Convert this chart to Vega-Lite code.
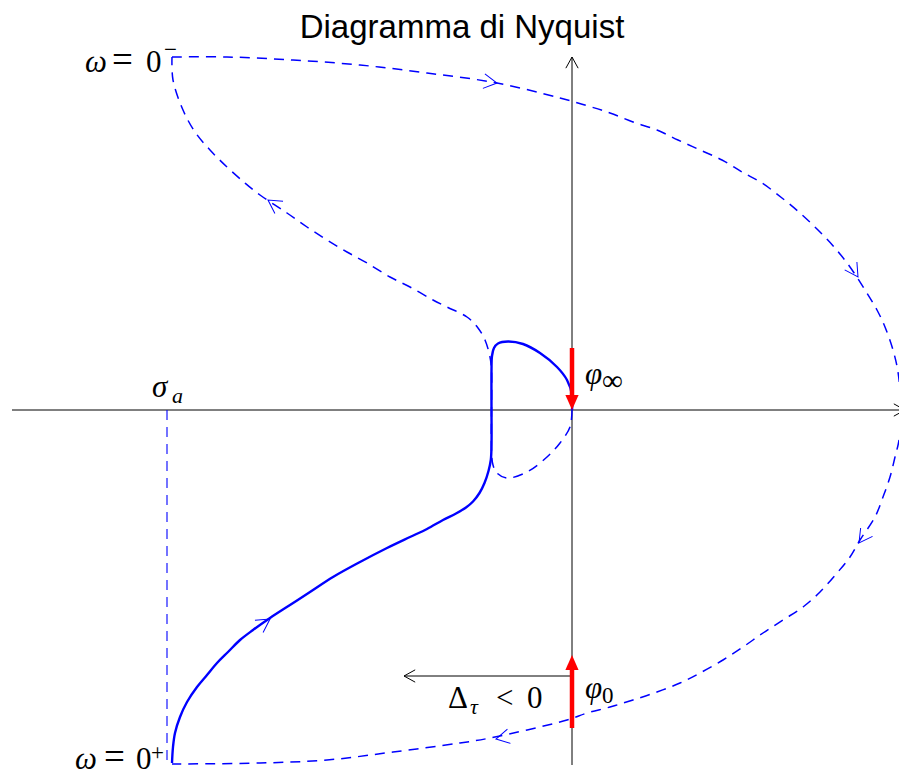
{
  "$schema": "https://vega.github.io/schema/vega-lite/v6.json",
  "width": 899,
  "height": 778,
  "padding": 0,
  "autosize": "none",
  "background": "white",
  "config": {"view": {"stroke": null}},
  "datasets": {
    "solid": [
      {"i":0,"x":-4.00,"y":-3.53},{"i":1,"x":-3.99,"y":-3.37},{"i":2,"x":-3.97,"y":-3.23},{"i":3,"x":-3.92,"y":-3.07},
      {"i":4,"x":-3.85,"y":-2.92},{"i":5,"x":-3.75,"y":-2.77},{"i":6,"x":-3.65,"y":-2.65},{"i":7,"x":-3.55,"y":-2.53},
      {"i":8,"x":-3.44,"y":-2.42},{"i":9,"x":-3.32,"y":-2.30},{"i":10,"x":-3.19,"y":-2.20},{"i":11,"x":-3.02,"y":-2.08},
      {"i":12,"x":-2.82,"y":-1.95},{"i":13,"x":-2.62,"y":-1.82},{"i":14,"x":-2.39,"y":-1.67},{"i":15,"x":-2.12,"y":-1.52},
      {"i":16,"x":-1.85,"y":-1.38},{"i":17,"x":-1.62,"y":-1.27},{"i":18,"x":-1.45,"y":-1.19},{"i":19,"x":-1.29,"y":-1.10},
      {"i":20,"x":-1.16,"y":-1.035},{"i":21,"x":-1.06,"y":-0.975},{"i":22,"x":-0.99,"y":-0.915},{"i":23,"x":-0.925,"y":-0.83},
      {"i":24,"x":-0.875,"y":-0.73},{"i":25,"x":-0.835,"y":-0.61},{"i":26,"x":-0.812,"y":-0.50},{"i":27,"x":-0.805,"y":-0.35},
      {"i":28,"x":-0.805,"y":0.0},{"i":29,"x":-0.805,"y":0.40},{"i":30,"x":-0.80,"y":0.54},{"i":31,"x":-0.78,"y":0.62},
      {"i":32,"x":-0.74,"y":0.665},{"i":33,"x":-0.64,"y":0.685},{"i":34,"x":-0.49,"y":0.66},{"i":35,"x":-0.32,"y":0.57},
      {"i":36,"x":-0.15,"y":0.43},{"i":37,"x":-0.05,"y":0.30},{"i":38,"x":0.0,"y":0.15},{"i":39,"x":0.0,"y":0.0}
    ],
    "dashed": [
      {"s":"A","i":0,"x":0.0,"y":0.0},{"s":"A","i":1,"x":-0.02,"y":-0.17},{"s":"A","i":2,"x":-0.12,"y":-0.33},
      {"s":"A","i":3,"x":-0.25,"y":-0.47},{"s":"A","i":4,"x":-0.45,"y":-0.62},{"s":"A","i":5,"x":-0.65,"y":-0.68},
      {"s":"A","i":6,"x":-0.75,"y":-0.63},{"s":"A","i":7,"x":-0.79,"y":-0.55},{"s":"A","i":8,"x":-0.805,"y":-0.40},
      {"s":"A","i":9,"x":-0.805,"y":0.0},{"s":"A","i":10,"x":-0.805,"y":0.40},{"s":"A","i":11,"x":-0.82,"y":0.53},
      {"s":"A","i":12,"x":-0.87,"y":0.70},{"s":"A","i":13,"x":-0.94,"y":0.82},{"s":"A","i":14,"x":-1.05,"y":0.93},
      {"s":"A","i":15,"x":-1.25,"y":1.03},{"s":"A","i":16,"x":-1.39,"y":1.10},{"s":"A","i":17,"x":-1.62,"y":1.23},
      {"s":"A","i":18,"x":-1.82,"y":1.33},{"s":"A","i":19,"x":-2.05,"y":1.47},{"s":"A","i":20,"x":-2.25,"y":1.58},
      {"s":"A","i":21,"x":-2.45,"y":1.70},{"s":"A","i":22,"x":-2.65,"y":1.83},{"s":"A","i":23,"x":-2.85,"y":1.97},
      {"s":"A","i":24,"x":-3.12,"y":2.15},{"s":"A","i":25,"x":-3.27,"y":2.27},{"s":"A","i":26,"x":-3.45,"y":2.43},
      {"s":"A","i":27,"x":-3.62,"y":2.60},{"s":"A","i":28,"x":-3.77,"y":2.78},{"s":"A","i":29,"x":-3.89,"y":3.00},
      {"s":"A","i":30,"x":-3.99,"y":3.30},{"s":"A","i":31,"x":-4.00,"y":3.53},
      {"s":"B","i":0,"x":-4.00,"y":3.53},{"s":"B","i":1,"x":-3.45,"y":3.53},{"s":"B","i":2,"x":-2.79,"y":3.50},
      {"s":"B","i":3,"x":-2.12,"y":3.45},{"s":"B","i":4,"x":-1.45,"y":3.37},{"s":"B","i":5,"x":-0.75,"y":3.27},
      {"s":"B","i":6,"x":-0.12,"y":3.12},{"s":"B","i":7,"x":0.16,"y":3.04},{"s":"B","i":8,"x":0.38,"y":2.97},
      {"s":"B","i":9,"x":0.61,"y":2.88},{"s":"B","i":10,"x":0.85,"y":2.80},{"s":"B","i":11,"x":1.06,"y":2.70},
      {"s":"B","i":12,"x":1.28,"y":2.60},{"s":"B","i":13,"x":1.50,"y":2.50},{"s":"B","i":14,"x":1.70,"y":2.38},
      {"s":"B","i":15,"x":1.90,"y":2.27},{"s":"B","i":16,"x":2.10,"y":2.12},{"s":"B","i":17,"x":2.28,"y":1.97},
      {"s":"B","i":18,"x":2.46,"y":1.80},{"s":"B","i":19,"x":2.63,"y":1.62},{"s":"B","i":20,"x":2.78,"y":1.43},
      {"s":"B","i":21,"x":2.93,"y":1.20},{"s":"B","i":22,"x":3.05,"y":1.00},{"s":"B","i":23,"x":3.13,"y":0.83},
      {"s":"B","i":24,"x":3.21,"y":0.60},{"s":"B","i":25,"x":3.26,"y":0.38},{"s":"B","i":26,"x":3.29,"y":0.0},
      {"s":"B","i":27,"x":3.27,"y":-0.30},{"s":"B","i":28,"x":3.23,"y":-0.47},{"s":"B","i":29,"x":3.18,"y":-0.67},
      {"s":"B","i":30,"x":3.11,"y":-0.87},{"s":"B","i":31,"x":3.03,"y":-1.07},{"s":"B","i":32,"x":2.88,"y":-1.30},
      {"s":"B","i":33,"x":2.78,"y":-1.47},{"s":"B","i":34,"x":2.65,"y":-1.63},{"s":"B","i":35,"x":2.48,"y":-1.82},
      {"s":"B","i":36,"x":2.31,"y":-1.97},{"s":"B","i":37,"x":2.11,"y":-2.10},{"s":"B","i":38,"x":1.91,"y":-2.23},
      {"s":"B","i":39,"x":1.71,"y":-2.37},{"s":"B","i":40,"x":1.51,"y":-2.50},{"s":"B","i":41,"x":1.28,"y":-2.63},
      {"s":"B","i":42,"x":1.08,"y":-2.73},{"s":"B","i":43,"x":0.85,"y":-2.82},{"s":"B","i":44,"x":0.61,"y":-2.90},
      {"s":"B","i":45,"x":0.38,"y":-2.97},{"s":"B","i":46,"x":0.15,"y":-3.03},{"s":"B","i":47,"x":-0.05,"y":-3.10},
      {"s":"B","i":48,"x":-0.82,"y":-3.28},{"s":"B","i":49,"x":-1.12,"y":-3.33},{"s":"B","i":50,"x":-1.79,"y":-3.42},
      {"s":"B","i":51,"x":-2.45,"y":-3.50},{"s":"B","i":52,"x":-3.12,"y":-3.53},{"s":"B","i":53,"x":-4.00,"y":-3.54}
    ],
    "sigma": [{"x":-4.05,"y":0.0,"y2":-3.53}],
    "axes": [
      {"x":-5.60,"y":0.0,"x2":3.33,"y2":0.0},
      {"x":0.0,"y":-3.55,"x2":0.0,"y2":3.53},
      {"x":0.0,"y":-2.66,"x2":-1.68,"y2":-2.66}
    ],
    "blueArrows": [
      {"x":-0.75,"y":3.27,"a":8},
      {"x":-3.04,"y":2.10,"a":214},
      {"x":2.86,"y":1.33,"a":57},
      {"x":2.87,"y":-1.33,"a":125},
      {"x":-0.76,"y":-3.29,"a":168},
      {"x":-3.02,"y":-2.09,"a":326}
    ],
    "blackArrows": [
      {"x":0.0,"y":3.53,"a":270},
      {"x":-1.68,"y":-2.66,"a":180},
      {"x":3.33,"y":0.0,"a":0}
    ],
    "redShafts": [{"x":0.0,"y":0.62,"y2":0.14},{"x":0.0,"y":-3.18,"y2":-2.60}],
    "redHeads": [{"x":0.0,"y":0.0,"a":90},{"x":0.0,"y":-2.45,"a":270}],
    "title": [{"x":-1.10,"y":3.72,"t":"Diagramma di Nyquist"}],
    "bigItalic": [
      {"x":-4.87,"y":3.38,"t":"ω"},
      {"x":-4.97,"y":-3.59,"t":"ω"},
      {"x":-4.20,"y":0.13,"t":"σ"},
      {"x":0.13,"y":0.26,"t":"φ"},
      {"x":0.13,"y":-2.88,"t":"φ"}
    ],
    "smallItalic": [
      {"x":-4.00,"y":0.07,"t":"a"},
      {"x":-1.02,"y":-3.04,"t":"τ"}
    ],
    "equals": [
      {"x":-4.60,"y":3.38,"t":"="},
      {"x":-4.68,"y":-3.59,"t":"="}
    ],
    "bigUpright": [
      {"x":-4.26,"y":3.38,"t":"0"},
      {"x":-4.36,"y":-3.59,"t":"0"},
      {"x":-1.24,"y":-2.98,"t":"Δ"},
      {"x":-0.76,"y":-2.98,"t":"<"},
      {"x":-0.45,"y":-2.98,"t":"0"}
    ],
    "smallUpright": [
      {"x":-4.08,"y":3.53,"t":"−"},
      {"x":-4.21,"y":-3.50,"t":"+"},
      {"x":0.30,"y":-2.93,"t":"0"}
    ],
    "infinity": [
      {"x":0.30,"y":0.20,"t":"∞"}
    ]
  },
  "encoding": {
    "x": {"field":"x","type":"quantitative","scale":{"domain":[-5.72,3.27],"nice":false,"zero":false},"axis":null},
    "y": {"field":"y","type":"quantitative","scale":{"domain":[-3.68,4.10],"nice":false,"zero":false},"axis":null}
  },
  "layer": [
    {"data":{"name":"axes"},"mark":{"type":"rule","color":"black","strokeWidth":1},
     "encoding":{"x2":{"field":"x2"},"y2":{"field":"y2"}}},
    {"data":{"name":"blackArrows"},"mark":{"type":"point","shape":"M-1,-0.55L0,0L-1,0.55","filled":false,"color":"black","strokeWidth":1,"size":500,"opacity":1},
     "encoding":{"angle":{"field":"a","type":"quantitative","scale":null}}},
    {"data":{"name":"sigma"},"mark":{"type":"rule","color":"#0000ff","strokeWidth":1.1,"strokeDash":[10,7]},
     "encoding":{"y2":{"field":"y2"}}},
    {"data":{"name":"dashed"},"mark":{"type":"line","color":"#0000ff","strokeWidth":1.5,"strokeDash":[10,7],"interpolate":"catmull-rom"},
     "encoding":{"detail":{"field":"s"},"order":{"field":"i","type":"quantitative"}}},
    {"data":{"name":"solid"},"mark":{"type":"line","color":"#0000ff","strokeWidth":2.4,"interpolate":"catmull-rom"},
     "encoding":{"order":{"field":"i","type":"quantitative"}}},
    {"data":{"name":"blueArrows"},"mark":{"type":"point","shape":"M-1,-0.55L0,0L-1,0.55","filled":false,"color":"#0000ff","strokeWidth":1,"size":700,"opacity":1},
     "encoding":{"angle":{"field":"a","type":"quantitative","scale":null}}},
    {"data":{"name":"redShafts"},"mark":{"type":"rule","color":"#ff0000","strokeWidth":4.5},
     "encoding":{"y2":{"field":"y2"}}},
    {"data":{"name":"redHeads"},"mark":{"type":"point","shape":"M0,0L-1.25,-0.55L-1.25,0.55Z","filled":true,"color":"#ff0000","size":576,"opacity":1},
     "encoding":{"angle":{"field":"a","type":"quantitative","scale":null}}},
    {"data":{"name":"title"},"mark":{"type":"text","font":"Liberation Sans","fontSize":33,"align":"center","baseline":"alphabetic","color":"black"},
     "encoding":{"text":{"field":"t"}}},
    {"data":{"name":"bigItalic"},"mark":{"type":"text","font":"Liberation Serif","fontStyle":"italic","fontSize":31,"align":"left","baseline":"alphabetic","color":"black"},
     "encoding":{"text":{"field":"t"}}},
    {"data":{"name":"smallItalic"},"mark":{"type":"text","font":"Liberation Serif","fontStyle":"italic","fontSize":22,"align":"left","baseline":"alphabetic","color":"black"},
     "encoding":{"text":{"field":"t"}}},
    {"data":{"name":"equals"},"mark":{"type":"text","font":"Liberation Serif","fontSize":37,"align":"left","baseline":"alphabetic","color":"black"},
     "encoding":{"text":{"field":"t"}}},
    {"data":{"name":"bigUpright"},"mark":{"type":"text","font":"Liberation Serif","fontSize":31,"align":"left","baseline":"alphabetic","color":"black"},
     "encoding":{"text":{"field":"t"}}},
    {"data":{"name":"smallUpright"},"mark":{"type":"text","font":"Liberation Serif","fontSize":23,"align":"left","baseline":"alphabetic","color":"black"},
     "encoding":{"text":{"field":"t"}}},
    {"data":{"name":"infinity"},"mark":{"type":"text","font":"Liberation Serif","fontSize":29,"align":"left","baseline":"alphabetic","color":"black"},
     "encoding":{"text":{"field":"t"}}}
  ]
}
